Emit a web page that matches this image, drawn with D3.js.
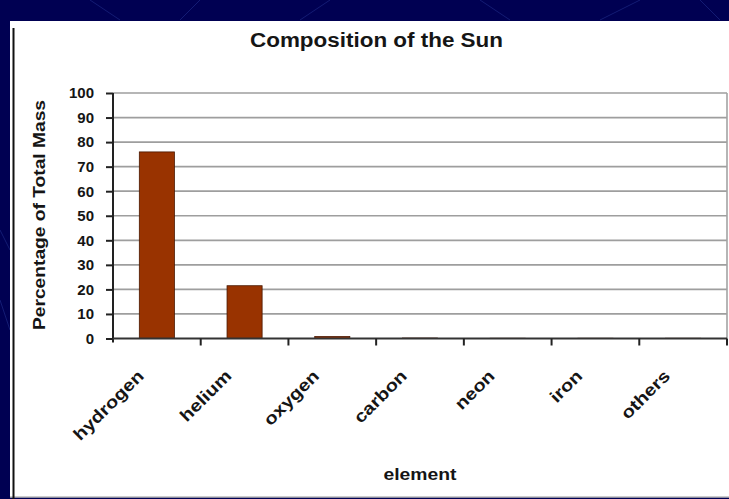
<!DOCTYPE html>
<html><head><meta charset="utf-8">
<script src="https://cdn.jsdelivr.net/npm/d3@7"></script>
<style>body{margin:0;background:#00004e;} svg{display:block}</style>
</head><body>
<svg id="c" width="729" height="499"></svg>
<script>
const categories = ["hydrogen", "helium", "oxygen", "carbon", "neon", "iron", "others"];
const values = [76, 21.5, 0.8, 0.2, 0.1, 0.1, 0.1];
const yTicks = [0, 10, 20, 30, 40, 50, 60, 70, 80, 90, 100];
const titleText = "Composition of the Sun";
const yTitleText = "Percentage of Total Mass";
const xTitleText = "element";

const FONT = "'Liberation Sans', Arial, sans-serif";
const svg = d3.select("#c");

// slide background
svg.append("rect").attr("width", 729).attr("height", 499).attr("fill", "#000052");
const deco = svg.append("g").attr("stroke", "#2a3a9a").attr("stroke-width", 0.8).attr("opacity", 0.6);
[[90,0,120,20],[200,0,180,20],[300,20,330,0],[480,0,510,20],[600,20,640,0],[700,0,720,20],[0,230,10,250],[0,300,10,330]]
  .forEach(l => deco.append("line").attr("x1", l[0]).attr("y1", l[1]).attr("x2", l[2]).attr("y2", l[3]));

// white chart panel
svg.append("rect").attr("x", 10).attr("y", 21).attr("width", 719).attr("height", 476).attr("fill", "#fff");
svg.append("line").attr("x1", 10).attr("x2", 729).attr("y1", 497).attr("y2", 497).attr("stroke", "#bdbdbd").attr("stroke-width", 1.5);
svg.append("line").attr("x1", 13.5).attr("x2", 13.5).attr("y1", 28).attr("y2", 499).attr("stroke", "#111").attr("stroke-width", 2);

const m = { left: 113, right: 727, top: 93, bottom: 338.5 };
const x = d3.scaleBand().domain(categories).range([m.left, m.right]).padding(0);
const y = d3.scaleLinear().domain([0, 100]).range([m.bottom, m.top]);

// gridlines
svg.append("g").selectAll("line").data(yTicks.filter(d => d > 0)).join("line")
  .attr("x1", m.left).attr("x2", m.right)
  .attr("y1", d => y(d)).attr("y2", d => y(d))
  .attr("stroke", "#9e9e9e").attr("stroke-width", 1.7);
// plot right border
svg.append("line").attr("x1", m.right).attr("x2", m.right).attr("y1", y(100)).attr("y2", y(0))
  .attr("stroke", "#a3a3a3").attr("stroke-width", 1.6);

// bars
const bw = x.bandwidth() * 0.4;
svg.append("g").selectAll("rect").data(values).join("rect")
  .attr("x", (d, i) => x(categories[i]) + x.bandwidth() / 2 - bw / 2)
  .attr("y", d => y(d))
  .attr("width", bw)
  .attr("height", d => y(0) - y(d))
  .attr("fill", "#993300")
  .attr("stroke", "#4a1800").attr("stroke-width", 0.8);

// y axis
const yAxis = d3.axisLeft(y).tickValues(yTicks).tickSize(7).tickPadding(12).tickSizeOuter(0);
const gy = svg.append("g").attr("transform", `translate(${m.left},0)`).call(yAxis);
gy.select(".domain").attr("stroke", "#222").attr("stroke-width", 2).attr("d", `M0,${y(100)}V${y(0) + 4}`);
gy.selectAll(".tick line").attr("stroke", "#222").attr("stroke-width", 2);
gy.selectAll(".tick text").attr("font-family", FONT).attr("font-weight", "bold")
  .attr("font-size", 15).attr("fill", "#151515");

// x axis
const xAxis = d3.axisBottom(x).tickSize(0).tickFormat("").tickSizeOuter(0);
const gx = svg.append("g").attr("transform", `translate(0,${m.bottom})`).call(xAxis);
gx.select(".domain").attr("stroke", "#333").attr("stroke-width", 2).attr("d", `M${m.left},0H${m.right}`);
gx.selectAll(".tick").remove();
gx.selectAll("line.bt").data(categories).join("line").attr("class", "bt")
  .attr("x1", d => x(d) + x.step()).attr("x2", d => x(d) + x.step())
  .attr("y1", 0).attr("y2", 7)
  .attr("stroke", "#222").attr("stroke-width", 2);

// category labels
const labels = svg.append("g").selectAll("text").data(categories).join("text")
  .attr("transform", d => `translate(${x(d) + x.bandwidth() / 2 - 12},377) rotate(-45)`)
  .attr("text-anchor", "end")
  .attr("font-family", FONT).attr("font-weight", "bold").attr("font-size", 17)
  .attr("fill", "#151515")
  .text(d => d);
labels.each(function () {
  const L = this.getComputedTextLength();
  d3.select(this).attr("textLength", L * 1.18).attr("lengthAdjust", "spacingAndGlyphs");
});

// title
svg.append("text").attr("x", 376.5).attr("y", 47).attr("text-anchor", "middle")
  .attr("font-family", FONT).attr("font-weight", "bold").attr("font-size", 20)
  .attr("fill", "#151515").attr("textLength", 253).attr("lengthAdjust", "spacingAndGlyphs")
  .text(titleText);

// y title
svg.append("text").attr("transform", "translate(45,215) rotate(-90)").attr("text-anchor", "middle")
  .attr("font-family", FONT).attr("font-weight", "bold").attr("font-size", 16)
  .attr("fill", "#151515").attr("textLength", 230).attr("lengthAdjust", "spacingAndGlyphs")
  .text(yTitleText);

// x title
svg.append("text").attr("x", 420).attr("y", 480).attr("text-anchor", "middle")
  .attr("font-family", FONT).attr("font-weight", "bold").attr("font-size", 16.5)
  .attr("fill", "#151515").attr("textLength", 73).attr("lengthAdjust", "spacingAndGlyphs")
  .text(xTitleText);
</script>
</body></html>
